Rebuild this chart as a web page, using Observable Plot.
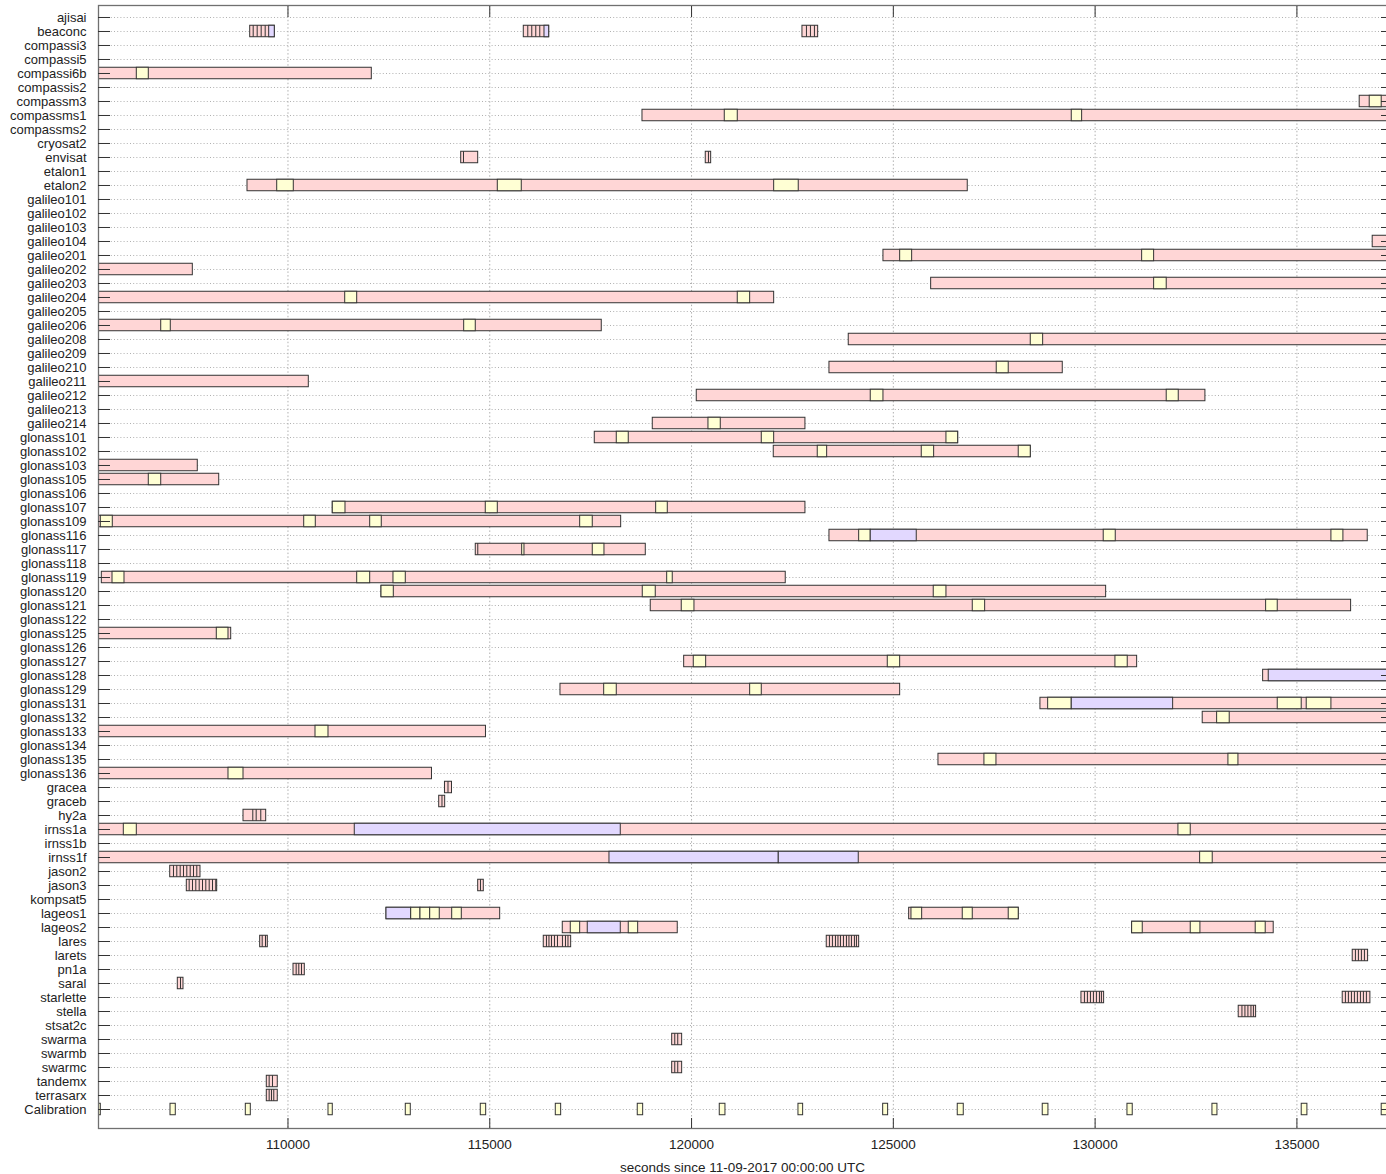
<!DOCTYPE html>
<html><head><meta charset="utf-8">
<script src="https://cdn.jsdelivr.net/npm/d3@7"></script>
<script src="https://cdn.jsdelivr.net/npm/@observablehq/plot@0.6"></script>
<style>
html,body{margin:0;padding:0;background:#fff;overflow:hidden}
#chart svg{display:block}
</style></head><body><div id="chart"></div>
<script>
// ---- categories (rows, top to bottom) ----
const names = ["ajisai","beaconc","compassi3","compassi5","compassi6b","compassis2","compassm3","compassms1","compassms2","cryosat2","envisat","etalon1","etalon2","galileo101","galileo102","galileo103","galileo104","galileo201","galileo202","galileo203","galileo204","galileo205","galileo206","galileo208","galileo209","galileo210","galileo211","galileo212","galileo213","galileo214","glonass101","glonass102","glonass103","glonass105","glonass106","glonass107","glonass109","glonass116","glonass117","glonass118","glonass119","glonass120","glonass121","glonass122","glonass125","glonass126","glonass127","glonass128","glonass129","glonass131","glonass132","glonass133","glonass134","glonass135","glonass136","gracea","graceb","hy2a","irnss1a","irnss1b","irnss1f","jason2","jason3","kompsat5","lageos1","lageos2","lares","larets","pn1a","saral","starlette","stella","stsat2c","swarma","swarmb","swarmc","tandemx","terrasarx","Calibration"];

// ---- x axis ----
const xDomain = [105305, 137220];
const xTicks = [110000, 115000, 120000, 125000, 130000, 135000];
const xLabel = "seconds since 11-09-2017 00:00:00 UTC";
const OPEN = 137600; // track continues past the right edge

// ---- tracking windows (base bars): [satellite, start s, end s] ----
const tracks = [
  ["beaconc",109064,109673],["beaconc",115843,116472],["beaconc",122748,123137],
  ["compassi6b",105305,112077],
  ["compassm3",136556,OPEN],
  ["compassms1",118784,OPEN],
  ["envisat",114292,114713],["envisat",120352,120486],
  ["etalon2",108997,126844],
  ["galileo104",136878,OPEN],
  ["galileo201",124755,OPEN],
  ["galileo202",105305,107642],
  ["galileo203",125937,OPEN],
  ["galileo204",105305,122047],
  ["galileo206",105305,117775],
  ["galileo208",123895,OPEN],
  ["galileo210",123417,129198],
  ["galileo211",105305,110516],
  ["galileo212",120129,132733],
  ["galileo214",119039,122822],
  ["glonass101",117602,126606],
  ["glonass102",122037,128405],
  ["glonass103",105305,107765],
  ["glonass105",105305,108296],
  ["glonass107",111110,122822],
  ["glonass109",105305,118256],
  ["glonass116",123417,136755],
  ["glonass117",114653,118866],
  ["glonass119",105387,122334],
  ["glonass120",112317,130273],
  ["glonass121",118989,136343],
  ["glonass125",105305,108593],
  ["glonass127",119817,131041],
  ["glonass128",134163,OPEN],
  ["glonass129",116752,125169],
  ["glonass131",128645,OPEN],
  ["glonass132",132666,OPEN],
  ["glonass133",105305,114906],
  ["glonass135",126118,OPEN],
  ["glonass136",105305,113568],
  ["gracea",113890,114064],
  ["graceb",113747,113895],
  ["hy2a",108898,109460],
  ["irnss1a",105305,OPEN],
  ["irnss1f",105305,OPEN],
  ["jason2",107082,107832],
  ["jason3",107493,108246],["jason3",114713,114852],
  ["lageos1",112441,115258],["lageos1",125392,128107],
  ["lageos2",116809,119658],["lageos2",130917,134425],
  ["lares",109311,109500],["lares",116338,117017],["lares",123350,124153],
  ["larets",136383,136764],
  ["pn1a",110137,110417],
  ["saral",107270,107411],
  ["starlette",129661,130223],["starlette",136135,136821],
  ["stella",133558,133989],
  ["swarma",119520,119767],
  ["swarmc",119520,119767],
  ["tandemx",109475,109747],
  ["terrasarx",109475,109747]
];

// ---- sub-passes drawn over the windows: [satellite, start, end, kind] (y = yellow, l = lavender) ----
const passes = [
  ["beaconc",109534,109673,"l"],["beaconc",116356,116472,"l"],
  ["compassi6b",106254,106551,"y"],
  ["compassm3",136804,137101,"y"],
  ["compassms1",120823,121145,"y"],["compassms1",129421,129678,"y"],
  ["etalon2",109733,110144,"y"],["etalon2",115199,115793,"y"],["etalon2",122047,122656,"y"],
  ["galileo201",125169,125466,"y"],["galileo201",131165,131462,"y"],
  ["galileo203",131462,131774,"y"],
  ["galileo204",111418,111715,"y"],["galileo204",121145,121452,"y"],
  ["galileo206",106859,107096,"y"],["galileo206",114366,114653,"y"],
  ["galileo208",128405,128712,"y"],
  ["galileo210",127562,127859,"y"],
  ["galileo212",124440,124755,"y"],["galileo212",131774,132072,"y"],
  ["galileo214",120419,120724,"y"],
  ["glonass101",118147,118444,"y"],["glonass101",121740,122047,"y"],["glonass101",126316,126606,"y"],
  ["glonass102",123127,123360,"y"],["glonass102",125704,126011,"y"],["glonass102",128107,128405,"y"],
  ["glonass105",106551,106859,"y"],
  ["glonass107",111110,111425,"y"],["glonass107",114901,115199,"y"],["glonass107",119123,119411,"y"],
  ["glonass109",105362,105659,"y"],["glonass109",110402,110689,"y"],["glonass109",112037,112324,"y"],["glonass109",117240,117552,"y"],
  ["glonass116",124153,124440,"y"],["glonass116",124440,125580,"l"],["glonass116",130213,130511,"y"],["glonass116",135855,136152,"y"],
  ["glonass117",115803,115860,"y"],["glonass117",117552,117842,"y"],
  ["glonass119",105652,105949,"y"],["glonass119",111715,112037,"y"],["glonass119",112614,112919,"y"],["glonass119",119396,119534,"y"],
  ["glonass120",112317,112622,"y"],["glonass120",118791,119113,"y"],["glonass120",126001,126316,"y"],
  ["glonass121",119757,120072,"y"],["glonass121",126968,127275,"y"],["glonass121",134237,134525,"y"],
  ["glonass125",108236,108526,"y"],
  ["glonass127",120055,120362,"y"],["glonass127",124862,125169,"y"],["glonass127",130503,130808,"y"],
  ["glonass128",134302,OPEN,"l"],
  ["glonass129",117835,118147,"y"],["glonass129",121452,121740,"y"],
  ["glonass131",128836,129421,"y"],["glonass131",129421,131933,"l"],["glonass131",134525,135119,"y"],["glonass131",135243,135855,"y"],
  ["glonass132",133023,133335,"y"],
  ["glonass133",110682,111004,"y"],
  ["glonass135",127257,127555,"y"],["glonass135",133303,133551,"y"],
  ["glonass136",108526,108898,"y"],
  ["irnss1a",105932,106254,"y"],["irnss1a",111655,118246,"l"],["irnss1a",132064,132369,"y"],
  ["irnss1f",117966,122161,"l"],["irnss1f",122161,124143,"l"],["irnss1f",132602,132914,"y"],
  ["lageos1",112441,113053,"l"],["lageos1",113053,113283,"y"],["lageos1",113283,113524,"y"],["lageos1",113524,113761,"y"],["lageos1",114069,114307,"y"],
  ["lageos1",125449,125714,"y"],["lageos1",126720,126968,"y"],["lageos1",127859,128107,"y"],
  ["lageos2",117007,117240,"y"],["lageos2",117428,118246,"l"],["lageos2",118444,118677,"y"],
  ["lageos2",130917,131180,"y"],["lageos2",132369,132609,"y"],["lageos2",133979,134227,"y"],
  ["Calibration",105312,105362,"y"],["Calibration",107089,107220,"y"],["Calibration",108955,109079,"y"],["Calibration",111004,111110,"y"],
  ["Calibration",112919,113043,"y"],["Calibration",114777,114911,"y"],["Calibration",116636,116769,"y"],["Calibration",118667,118801,"y"],
  ["Calibration",120699,120840,"y"],["Calibration",122649,122765,"y"],["Calibration",124748,124871,"y"],["Calibration",126596,126745,"y"],
  ["Calibration",128702,128843,"y"],["Calibration",130801,130932,"y"],["Calibration",132907,133031,"y"],["Calibration",135119,135260,"y"],
  ["Calibration",137101,OPEN,"y"]
];

// ---- pass boundaries inside the short windows: [satellite, time] ----
const splits = [
  ["beaconc",109138],["beaconc",109237],["beaconc",109336],["beaconc",109435],
  ["beaconc",115942],["beaconc",116041],["beaconc",116140],["beaconc",116239],
  ["beaconc",122847],["beaconc",122946],["beaconc",123045],
  ["envisat",114349],["envisat",120419],
  ["glonass117",114703],
  ["gracea",113965],["graceb",113816],
  ["hy2a",109128],["hy2a",109212],["hy2a",109326],
  ["jason2",107163],["jason2",107245],["jason2",107329],["jason2",107411],["jason2",107493],["jason2",107577],["jason2",107659],["jason2",107741],
  ["jason3",107552],["jason3",107634],["jason3",107716],["jason3",107800],["jason3",107882],["jason3",107964],["jason3",108048],["jason3",108130],["jason3",108211],["jason3",114770],
  ["lares",109361],["lares",109443],
  ["lares",116405],["lares",116467],["lares",116529],["lares",116603],["lares",116678],["lares",116801],["lares",116876],["lares",116938],
  ["lares",123417],["lares",123491],["lares",123566],["lares",123628],["lares",123690],["lares",123764],["lares",123838],["lares",123900],["lares",123962],["lares",124036],["lares",124086],
  ["larets",136450],["larets",136524],["larets",136598],["larets",136673],
  ["pn1a",110203],["pn1a",110268],["pn1a",110335],
  ["saral",107337],
  ["starlette",129735],["starlette",129809],["starlette",129884],["starlette",129958],["starlette",130032],["starlette",130107],["starlette",130156],
  ["starlette",136202],["starlette",136276],["starlette",136351],["starlette",136425],["starlette",136499],["starlette",136574],["starlette",136648],["starlette",136722],
  ["stella",133638],["stella",133712],["stella",133786],["stella",133861],["stella",133922],
  ["swarma",119584],["swarma",119658],["swarmc",119584],["swarmc",119658],
  ["tandemx",109534],["tandemx",109616],
  ["terrasarx",109534],["terrasarx",109591],["terrasarx",109648]
];

// ---- rendering ----
const row = new Map(names.map((n, i) => [n, i]));
const rows = d3.range(names.length);
const half = 0.41;
const fills = {y: "#ffffd4", l: "#e2d8ff"};
const ink = "#333";

const chart = Plot.plot({
  width: 1386, height: 1174,
  marginLeft: 98, marginRight: 0, marginTop: 5, marginBottom: 46,
  style: {fontFamily: "'Liberation Sans', Arial, sans-serif", fontSize: "13px", color: "#222", background: "#fff"},
  x: {domain: xDomain},
  y: {domain: [-0.857, names.length + 0.357], reverse: true},
  color: {type: "identity"},
  marks: [
    Plot.ruleY(rows, {y: d => d, stroke: "#b0b0b0", strokeDasharray: "1,2.2"}),
    Plot.ruleX(xTicks, {x: d => d, stroke: "#b0b0b0", strokeDasharray: "1.5,2.2"}),
    Plot.rect(tracks, {x1: d => d[1], x2: d => d[2], y1: d => row.get(d[0]) - half, y2: d => row.get(d[0]) + half,
      fill: "#ffd6d6", stroke: ink, strokeWidth: 1, clip: true}),
    Plot.rect(passes, {x1: d => d[1], x2: d => d[2], y1: d => row.get(d[0]) - half, y2: d => row.get(d[0]) + half,
      fill: d => fills[d[3]], stroke: ink, strokeWidth: 1, clip: true}),
    Plot.ruleX(splits, {x: d => d[1], y1: d => row.get(d[0]) - half, y2: d => row.get(d[0]) + half, stroke: ink, strokeWidth: 1}),
    Plot.frame({stroke: "#707070", strokeWidth: 1.3, insetRight: -3}),
    // y axis: labels + inward ticks on both sides
    Plot.axisY(rows, {anchor: "left", tickSize: 0, tickPadding: 12, tickFormat: i => names[i], label: null, fill: "#222"}),
    Plot.axisY(rows, {anchor: "left", tickSize: 12, dx: 12, tickFormat: () => "", label: null, stroke: ink}),
    Plot.axisY(rows, {anchor: "right", tickSize: 6, dx: -6, tickFormat: () => "", label: null, stroke: ink}),
    // x axis: labels + inward ticks bottom and top
    Plot.axisX(xTicks, {anchor: "bottom", tickSize: 0, tickPadding: 11, tickFormat: d => String(d), label: null, fill: "#222", fontSize: 13.5}),
    Plot.axisX(xTicks, {anchor: "bottom", tickSize: 10, dy: -10, tickFormat: () => "", label: null, stroke: ink}),
    Plot.axisX(xTicks, {anchor: "top", tickSize: 11, dy: 11, tickFormat: () => "", label: null, stroke: ink}),
    Plot.text([xLabel], {frameAnchor: "bottom", text: d => d, dy: 39, lineAnchor: "middle", fontSize: 13.5, fill: "#222"})
  ]
});
document.getElementById("chart").appendChild(chart);
</script>
</body></html>
